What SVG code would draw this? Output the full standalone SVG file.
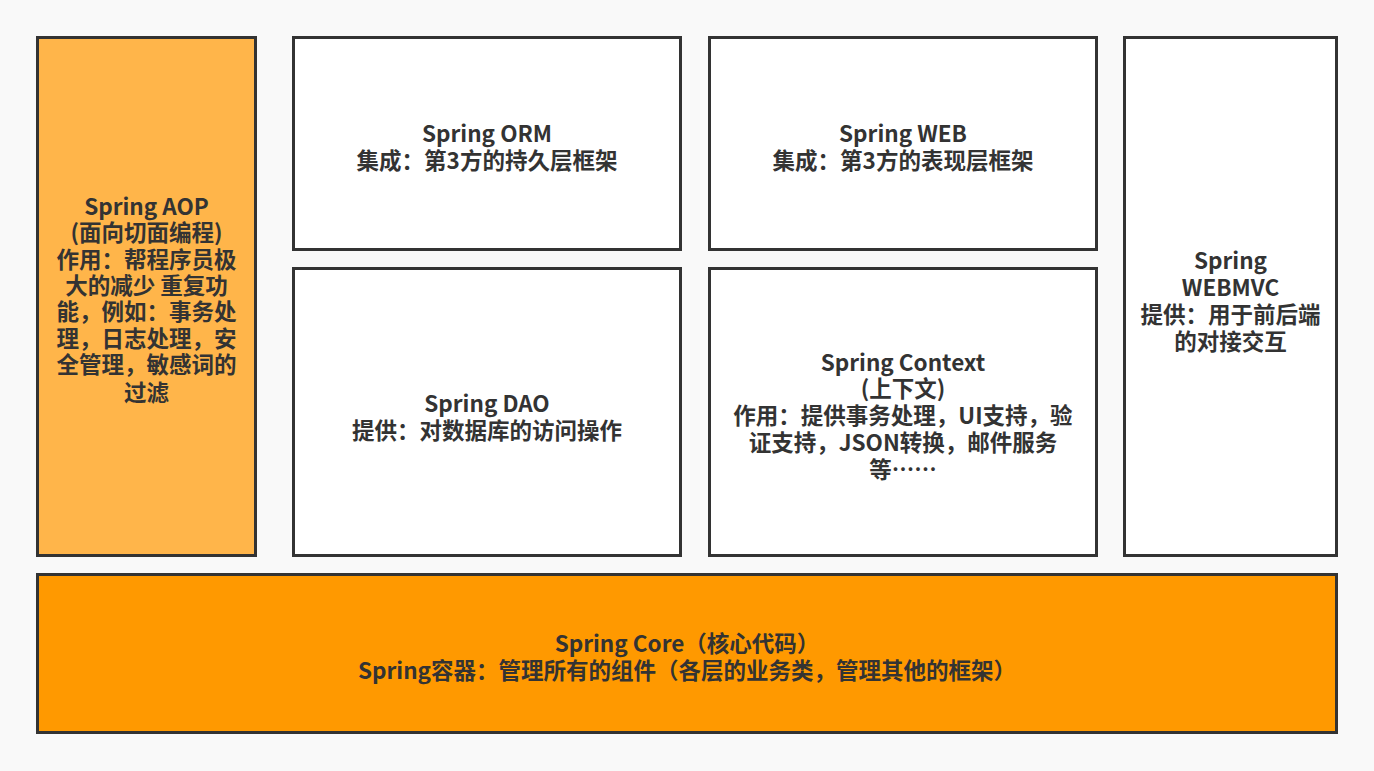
<svg xmlns="http://www.w3.org/2000/svg" width="1374" height="771" viewBox="0 0 1374 771">
<style>
.box{stroke:#333333;stroke-width:3}
.w{fill:#ffffff}
.aop{fill:#FFB54A}
.core{fill:#FF9900}
text{font-family:"Noto Sans CJK SC","Microsoft YaHei",sans-serif;font-size:22.5px;font-weight:bold;fill:#333333;text-anchor:middle;dominant-baseline:central}
</style>
<rect x="0" y="0" width="1374" height="771" fill="#f9f9f9"/>
<g id="aop">
<rect class="box aop" x="37.5" y="37.5" width="218" height="518"/>
<text x="146.5" y="205">Spring AOP</text>
<text x="146.5" y="231">(面向切面编程)</text>
<text x="146.5" y="258">作用：帮程序员极</text>
<text x="146.5" y="284">大的减少 重复功</text>
<text x="146.5" y="310">能，例如：事务处</text>
<text x="146.5" y="337">理，日志处理，安</text>
<text x="146.5" y="363">全管理，敏感词的</text>
<text x="146.5" y="391">过滤</text>
</g>
<g id="orm">
<rect class="box w" x="293.5" y="37.5" width="387" height="212"/>
<text x="487" y="132">Spring ORM</text>
<text x="487" y="159">集成：第3方的持久层框架</text>
</g>
<g id="web">
<rect class="box w" x="709.5" y="37.5" width="387" height="212"/>
<text x="903" y="132">Spring WEB</text>
<text x="903" y="159">集成：第3方的表现层框架</text>
</g>
<g id="dao">
<rect class="box w" x="293.5" y="268.5" width="387" height="287"/>
<text x="487" y="402">Spring DAO</text>
<text x="487" y="429">提供：对数据库的访问操作</text>
</g>
<g id="context">
<rect class="box w" x="709.5" y="268.5" width="387" height="287"/>
<text x="903" y="361">Spring Context</text>
<text x="903" y="387">(上下文)</text>
<text x="903" y="414">作用：提供事务处理，UI支持，验</text>
<text x="903" y="441">证支持，JSON转换，邮件服务</text>
<text x="903" y="468">等……</text>
</g>
<g id="webmvc">
<rect class="box w" x="1124.5" y="37.5" width="212" height="518"/>
<text x="1230.5" y="259">Spring</text>
<text x="1230.5" y="286">WEBMVC</text>
<text x="1230.5" y="313">提供：用于前后端</text>
<text x="1230.5" y="340">的对接交互</text>
</g>
<g id="core">
<rect class="box core" x="37.5" y="574.5" width="1299" height="158"/>
<text x="687" y="642">Spring Core（核心代码）</text>
<text x="687" y="669">Spring容器：管理所有的组件（各层的业务类，管理其他的框架）</text>
</g>
<g id="connectors"></g>
</svg>
